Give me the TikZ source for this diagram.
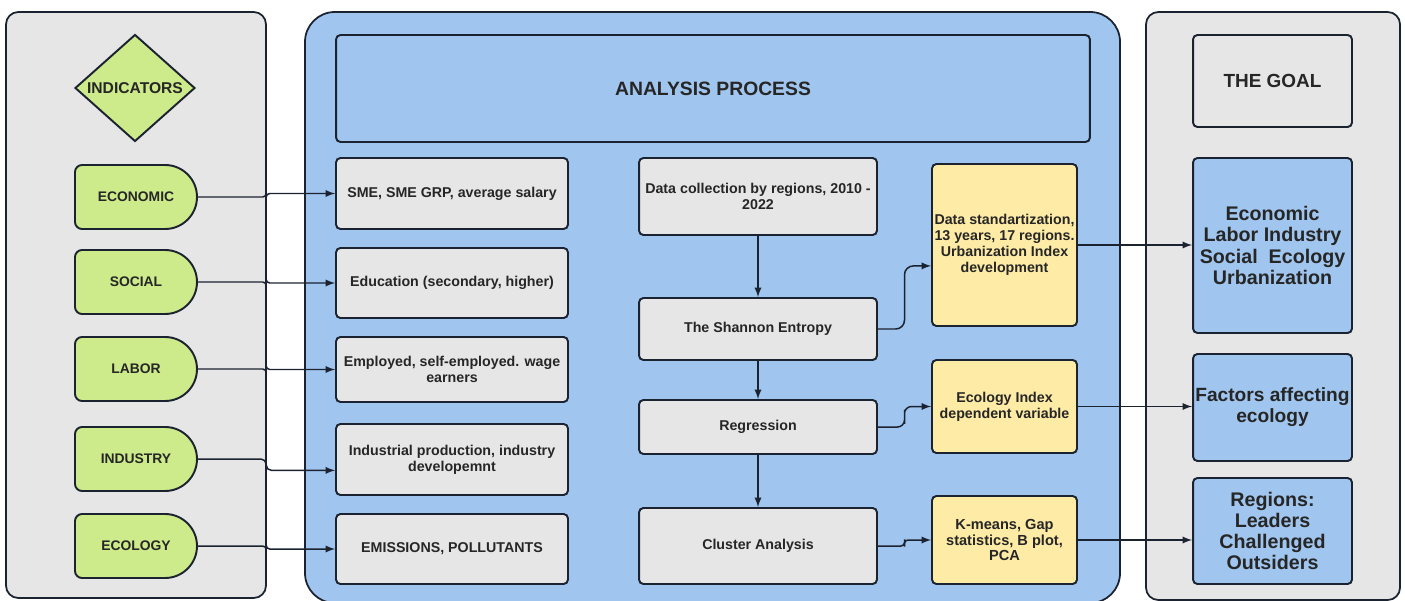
\documentclass[tikz,border=0pt]{standalone}
\usepackage{fontspec}
\setmainfont{Liberation Sans}
\usepackage{tikz}
\usepackage{xcolor}
\usetikzlibrary{calc, shapes.geometric}

\definecolor{panelgray}{HTML}{E6E6E6}
\definecolor{procblue}{HTML}{A0C5EE}
\definecolor{indgreen}{HTML}{CDEB8B}
\definecolor{resyellow}{HTML}{FDEBA6}
\definecolor{edgedark}{HTML}{1B2230}

\begin{document}
\begin{tikzpicture}[x=0.02cm, y=-0.02cm,
    panel/.style={draw=edgedark, line width=1pt},
    box/.style={draw=edgedark, line width=1.1pt, rounded corners=2.5pt, align=center,
        text=black!85, inner sep=1pt, font=\fontsize{8.1}{9}\selectfont\bfseries},
    graybox/.style={box, fill=panelgray, minimum width=4.64cm},
    midbox/.style={box, fill=panelgray, minimum width=4.76cm},
    yelbox/.style={box, fill=resyellow, minimum width=2.9cm},
    goalbox/.style={box, fill=procblue, minimum width=3.18cm,
        font=\fontsize{11.2}{12}\selectfont\bfseries},
    indshape/.style={draw=edgedark, line width=1.1pt, fill=indgreen},
    indtext/.style={minimum width=2.44cm, minimum height=1.28cm, inner sep=0,
        text=black!85, font=\fontsize{7.9}{9}\selectfont\bfseries},
    arr/.style={-latex, draw=edgedark, line width=0.85pt}
]
\useasboundingbox (0,0) rectangle (1405,601);

% the three panels
\draw[panel, fill=panelgray, rounded corners=7pt] (6,12) rectangle (266,598);
\draw[panel, fill=procblue, rounded corners=17pt] (305,12) rectangle (1120,603);
\draw[panel, fill=panelgray, rounded corners=7pt] (1146,12) rectangle (1400,600);

% indicators
\node[diamond, draw=edgedark, line width=1.1pt, fill=indgreen, inner sep=0,
    minimum width=2.4cm, minimum height=2.14cm, text=black!85,
    font=\fontsize{8.9}{9}\selectfont\bfseries] (indic) at (135,88) {INDICATORS};
\foreach \nm/\lbl/\yc in {econ/ECONOMIC/197, soc/SOCIAL/282, lab/LABOR/369,
                          ind/INDUSTRY/459, ecol/ECOLOGY/546}{
    \draw[indshape] (165,\yc-32) [rounded corners=4pt] -- (75,\yc-32) -- (75,\yc+32)
        [sharp corners] -- (165,\yc+32) arc[start angle=90, end angle=-90, radius=32] -- cycle;
    \node[indtext] (\nm) at (136,\yc) {\lbl};
}

% analysis process
\node[box, fill=procblue, minimum width=15.08cm, minimum height=2.14cm,
    font=\fontsize{11}{12}\selectfont\bfseries] (anal) at (713,88.5) {ANALYSIS PROCESS};

\node[graybox, minimum height=1.42cm] (sme) at (452,193.5) {SME, SME GRP, average salary};
\node[graybox, minimum height=1.40cm] (edu) at (452,283) {Education (secondary, higher)};
\node[graybox, minimum height=1.30cm] (emp) at (452,369.5) {Employed, self-employed. wage\\earners};
\node[graybox, minimum height=1.42cm] (indb) at (452,459.5) {Industrial production, industry\\developemnt};
\node[graybox, minimum height=1.40cm] (emi) at (452,549) {EMISSIONS, POLLUTANTS};

\node[midbox, minimum height=1.54cm] (data) at (758,196.5) {Data collection by regions, 2010 -\\2022};
\node[midbox, minimum height=1.24cm] (shan) at (758,329) {The Shannon Entropy};
\node[midbox, minimum height=1.08cm] (reg) at (758,427) {Regression};
\node[midbox, minimum height=1.52cm] (clu) at (758,546) {Cluster Analysis};

\node[yelbox, minimum height=3.24cm] (std) at (1004.5,245) {Data standartization,\\13 years, 17 regions.\\Urbanization Index\\development};
\node[yelbox, minimum height=1.86cm] (ecix) at (1004.5,406.5) {Ecology Index\\dependent variable};
\node[yelbox, minimum height=1.76cm, font=\fontsize{8.3}{9}\selectfont\bfseries] (kmn) at (1004.5,540) {K-means, Gap\\statistics, B plot,\\PCA};

% the goal
\node[box, fill=panelgray, minimum width=3.18cm, minimum height=1.84cm,
    font=\fontsize{10.8}{12}\selectfont\bfseries] (goal) at (1272.5,81) {THE GOAL};
\node[goalbox, minimum height=3.5cm] (gone) at (1272.5,245.5) {Economic\\Labor Industry\\Social~~Ecology\\Urbanization};
\node[goalbox, minimum height=2.14cm, inner sep=0pt,
    font=\fontsize{10.9}{12}\selectfont\bfseries] (gtwo) at (1272.5,407.5) {Factors affecting\\ecology};
\node[goalbox, minimum height=2.12cm] (gthree) at (1272.5,531) {Regions:\\Leaders\\Challenged\\Outsiders};

% connectors
\foreach \a/\b in {econ/sme, soc/edu, lab/emp, ecol/emi}
    \draw[arr, rounded corners=2pt] (\a.east) -| ($(\a.east)!0.5!(\b.west)$) |- (\b.west);
\draw[arr, rounded corners=3pt] (ind.east) -| ($(ind.east)!0.5!([yshift=-6.2pt]indb.west)$) |- ([yshift=-6.2pt]indb.west);

\draw[arr] (data) -- (shan);
\draw[arr] (shan) -- (reg);
\draw[arr] (reg) -- (clu);

\draw[arr, rounded corners=5pt] (shan.east) -| ($(shan.east)!0.5!([yshift=-11.9pt]std.west)$) |- ([yshift=-11.9pt]std.west);
\draw[arr, rounded corners=4pt] (reg.east) -| ($(reg.east)!0.5!(ecix.west)$) |- (ecix.west);
\draw[arr, rounded corners=2pt] (clu.east) -| ($(clu.east)!0.5!(kmn.west)$) |- (kmn.west);

\draw[arr] (std.east) -- (std.east -| gone.west);
\draw[arr] (ecix.east) -- (ecix.east -| gtwo.west);
\draw[arr] (kmn.east) -- (kmn.east -| gthree.west);
\end{tikzpicture}
\end{document}
